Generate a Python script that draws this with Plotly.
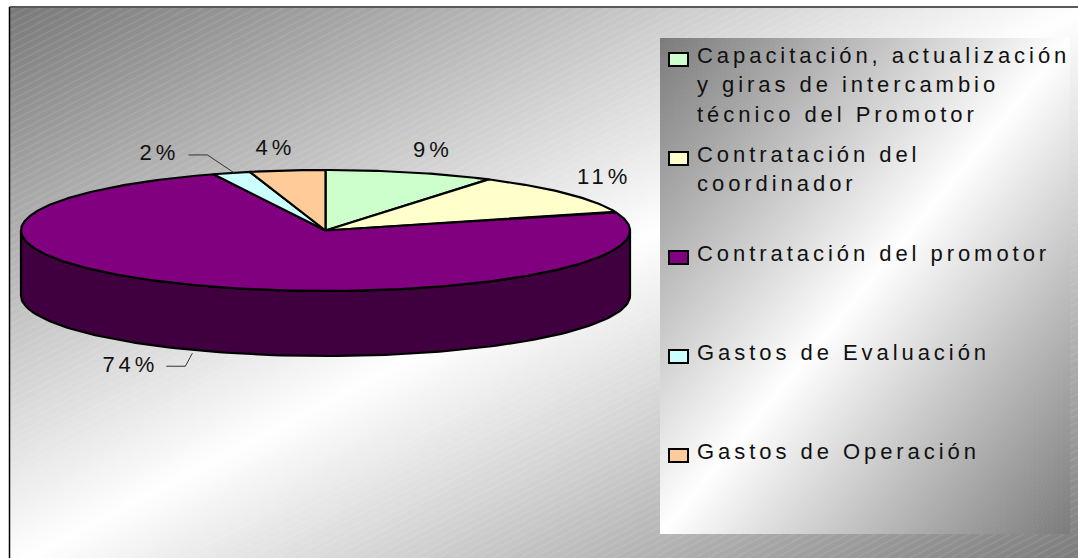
import base64, struct, zlib
import numpy as np
import plotly.graph_objects as go

# ---- data ----
categories = ["Capacitación, actualización y giras de intercambio técnico del Promotor",
              "Contratación del coordinador",
              "Contratación del promotor",
              "Gastos de Evaluación",
              "Gastos de Operación"]
values = [9, 11, 74, 2, 4]
legend_lines = [["Capacitación, actualización", "y giras de intercambio", "técnico del Promotor"],
                ["Contratación del", "coordinador"],
                ["Contratación del promotor"],
                ["Gastos de Evaluación"],
                ["Gastos de Operación"]]
colors = ["#CCFFCC", "#FFFFCC", "#800080", "#CCFFFF", "#FFCC99"]
side_colors = ["#668066", "#808066", "#400040", "#668080", "#806650"]

# ---- geometry of the tilted pie (pixels) ----
W, H = 1078, 558
CX, CY, A, B, DEPTH = 325.5, 230.5, 304.5, 60.5, 65
LEG = (660, 38, 1070, 534)
FRAME = (9.5, 7)


def gradient(x0, y0, x1, y1, dark, period, amp):
    xs, ys = np.meshgrid(np.arange(x0, x1), np.arange(y0, y1))
    t = ((xs - x0) / (x1 - x0) + (ys - y0) / (y1 - y0)) / 2
    val = dark + (255 - dark) * (1 - np.abs(2 * t - 1))
    phase = (t * 2 * (y1 - y0) / period) % 1
    val = val + (phase < 0.3) * amp * (255 - val) / (255 - dark)
    return np.clip(val, 0, 255)


img = np.full((H, W), 255.0)
img[8:H, 10:W] = gradient(10, 8, W + 8, H + 8, 122, 7, 9)[:H - 8, :W - 10]
img[LEG[1]:LEG[3], LEG[0]:LEG[2]] = gradient(LEG[0], LEG[1], LEG[2], LEG[3], 122, 4, 7)
img = img.astype(np.uint8)


def png_uri(a):
    h, w = a.shape
    raw = b"".join(b"\x00" + a[i].tobytes() for i in range(h))
    def chunk(tag, d):
        return struct.pack(">I", len(d)) + tag + d + struct.pack(">I", zlib.crc32(tag + d) & 0xffffffff)
    data = b"\x89PNG\r\n\x1a\n" + chunk(b"IHDR", struct.pack(">IIBBBBB", w, h, 8, 0, 0, 0, 0)) \
        + chunk(b"IDAT", zlib.compress(raw, 9)) + chunk(b"IEND", b"")
    return "data:image/png;base64," + base64.b64encode(data).decode()


def rim(theta):
    return CX + A * np.sin(theta), CY - B * np.cos(theta)


fig = go.Figure()
total = sum(values)
edges = np.cumsum([0] + values) / total * 2 * np.pi
OUT = dict(color="#000", width=2.2)

# side wall: only the part of each slice that faces the viewer
for i in range(len(values)):
    lo, hi = max(edges[i], np.pi / 2), min(edges[i + 1], 3 * np.pi / 2)
    if hi > lo:
        th = np.linspace(lo, hi, 120)
        x, y = rim(th)
        fig.add_trace(go.Scatter(x=np.r_[x, x[::-1], x[0]], y=np.r_[y, y[::-1] + DEPTH, y[0]],
                                 mode="lines", fill="toself", fillcolor=side_colors[i],
                                 line=OUT, showlegend=False))
# top face
for i in range(len(values)):
    th = np.linspace(edges[i], edges[i + 1], max(8, int(values[i] * 6)))
    x, y = rim(th)
    fig.add_trace(go.Scatter(x=np.r_[CX, x, CX], y=np.r_[CY, y, CY], mode="lines", fill="toself",
                             fillcolor=colors[i], line=OUT, showlegend=False))

# data labels, placed relative to each slice's rim midpoint
label_offset = [(22.5, -21), (38, -15), (-65.5, 81), (-72, -18), (-12, -21)]
lx, ly, lt = [], [], []
for i, v in enumerate(values):
    mx, my = rim((edges[i] + edges[i + 1]) / 2)
    lx.append(mx + label_offset[i][0])
    ly.append(my + label_offset[i][1])
    lt.append(f"{v}%")
fig.add_trace(go.Scatter(x=lx, y=ly, text=lt, mode="text", textposition="middle center",
                         textfont=dict(family="Liberation Sans", size=22, color="#111"),
                         showlegend=False))

# leader lines
tx, ty = rim((edges[3] + edges[4]) / 2)
fig.add_trace(go.Scatter(x=[lx[3] + 29, lx[3] + 48, tx + 3], y=[ly[3], ly[3], ty], mode="lines",
                         line=dict(color="#333", width=1), showlegend=False))
fig.add_trace(go.Scatter(x=[lx[2] + 36, lx[2] + 55, lx[2] + 62], y=[ly[2], ly[2], ly[2] - 13], mode="lines",
                         line=dict(color="#333", width=1), showlegend=False))

# legend
line_gap = 29.5
starts = [57, 156, 255, 354, 453]
tx_, ty_, tt_ = [], [], []
shapes = []
for i, lines in enumerate(legend_lines):
    for j, s in enumerate(lines):
        tx_.append(697)
        ty_.append(starts[i] + j * line_gap)
        tt_.append(s)
    shapes.append(dict(type="rect", xref="x", yref="y", x0=669, x1=688, y0=starts[i] - 4, y1=starts[i] + 9,
                       fillcolor=colors[i], line=dict(color="#000", width=2)))
fig.add_trace(go.Scatter(x=tx_, y=ty_, text=tt_, mode="text", textposition="middle right",
                         textfont=dict(family="Liberation Sans", size=22, color="#111"),
                         showlegend=False))

# frame lines
shapes += [dict(type="line", xref="x", yref="y", x0=FRAME[0], x1=FRAME[0], y0=FRAME[1], y1=H,
                line=dict(color="#000", width=1.5)),
           dict(type="line", xref="x", yref="y", x0=FRAME[0], x1=W, y0=FRAME[1], y1=FRAME[1],
                line=dict(color="#222", width=1.5))]

fig.update_layout(width=W, height=H, margin=dict(l=0, r=0, t=0, b=0),
                  paper_bgcolor="#fff", plot_bgcolor="rgba(0,0,0,0)", hovermode=False,
                  xaxis=dict(range=[0, W], visible=False, fixedrange=True),
                  yaxis=dict(range=[H, 0], visible=False, fixedrange=True),
                  shapes=shapes,
                  images=[dict(source=png_uri(img), xref="x", yref="y", x=0, y=0, sizex=W, sizey=H,
                               sizing="stretch", xanchor="left", yanchor="top", layer="below")])

post = """
document.body.style.margin='0';
document.querySelectorAll('.textpoint text').forEach(function(t){t.style.letterSpacing='3.95px';});
"""
fig.write_html("out.html", post_script=post, config=dict(displayModeBar=False))
